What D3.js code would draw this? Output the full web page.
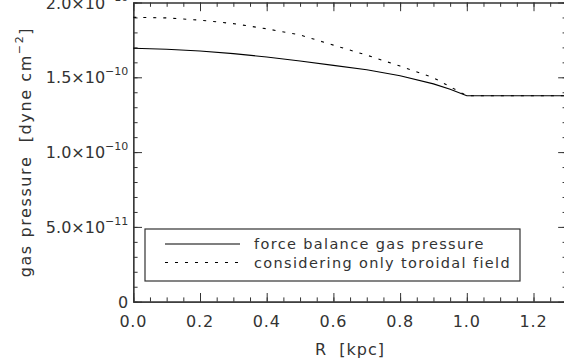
<!DOCTYPE html>
<html>
<head>
<meta charset="utf-8">
<script src="https://cdn.jsdelivr.net/npm/d3@7"></script>
<style>
  body { margin: 0; background: #fff; }
  svg text { font-family: "DejaVu Sans", sans-serif; fill: #333; }
</style>
</head>
<body>
<div id="chart"></div>
<script>
// radius in kpc
var radius = [0, 0.1, 0.2, 0.3, 0.4, 0.5, 0.6, 0.7, 0.8, 0.9, 0.95, 1.0, 1.3];
// force balance gas pressure (dyne cm^-2)
var forceBalance = [1.694e-10, 1.687e-10, 1.676e-10, 1.658e-10, 1.636e-10, 1.609e-10, 1.580e-10,
                    1.551e-10, 1.510e-10, 1.456e-10, 1.420e-10, 1.377e-10, 1.377e-10];
// considering only toroidal field
var toroidalOnly = [1.901e-10, 1.897e-10, 1.882e-10, 1.859e-10, 1.824e-10, 1.783e-10, 1.715e-10,
                    1.648e-10, 1.575e-10, 1.497e-10, 1.437e-10, 1.377e-10, 1.377e-10];

var xTicks = [0, 0.2, 0.4, 0.6, 0.8, 1.0, 1.2];
var yTicks = [0, 5e-11, 1e-10, 1.5e-10, 2e-10];
var yTickMant = ["0", "5.0", "1.0", "1.5", "2.0"];
var yTickExp = ["", "\u221211", "\u221210", "\u221210", "\u221210"];
var seriesNames = ["force balance gas pressure", "considering only toroidal field"];

var W = 564, H = 362;
var margin = { top: 2.5, left: 133.3 },
    width = 1.3 * 333.5,
    height = 299.2;

var x = d3.scaleLinear().domain([0, 1.3]).range([0, width]);
var y = d3.scaleLinear().domain([0, 2e-10]).range([height, 0]);

var svg = d3.select("#chart").append("svg")
    .attr("width", W)
    .attr("height", H)
    .append("g")
    .attr("transform", "translate(" + margin.left + "," + margin.top + ")");

var axisCol = "#333";

// minor ticks
var xMinor = d3.range(0, 1.3001, 0.05);
var yMinor = d3.range(0, 2.0001e-10, 1e-11);

function tickAxis(axis, len) {
  return axis.tickSizeInner(len).tickSizeOuter(0).tickFormat("");
}

// box axes, ticks pointing inwards
var axes = [
  { gen: d3.axisBottom(x), tr: "translate(0," + height + ")", minor: xMinor, major: xTicks },
  { gen: d3.axisTop(x), tr: "translate(0,0)", minor: xMinor, major: xTicks },
  { gen: d3.axisLeft(y), tr: "translate(0,0)", minor: yMinor, major: yTicks },
  { gen: d3.axisRight(y), tr: "translate(" + width + ",0)", minor: yMinor, major: yTicks }
];

axes.forEach(function(a) {
  var g1 = svg.append("g").attr("transform", a.tr)
    .call(tickAxis(a.gen.tickValues(a.minor), -4.3));
  var g2 = svg.append("g").attr("transform", a.tr)
    .call(tickAxis(a.gen.tickValues(a.major), -8.7));
  [g1, g2].forEach(function(g) {
    g.selectAll("path").attr("stroke", axisCol).attr("stroke-width", 1.2);
    g.selectAll("line").attr("stroke", axisCol).attr("stroke-width", 1);
  });
});

// x tick labels
svg.selectAll(".xlab")
  .data(xTicks)
  .enter().append("text")
  .attr("class", "xlab")
  .attr("x", function(d) { return x(d); })
  .attr("y", height + 25)
  .attr("text-anchor", "middle")
  .style("font-size", "16px")
  .style("letter-spacing", "0.8px")
  .text(function(d) { return d.toFixed(1); });

// y tick labels with superscript exponent
var ylab = svg.selectAll(".ylab")
  .data(yTicks)
  .enter().append("text")
  .attr("class", "ylab")
  .attr("x", -5)
  .attr("y", function(d) { return y(d) + 6; })
  .attr("text-anchor", "end")
  .style("font-size", "16px");

ylab.each(function(d, i) {
  var t = d3.select(this);
  if (yTickExp[i] === "") {
    t.text(yTickMant[i]);
    return;
  }
  t.append("tspan").text(yTickMant[i] + "\u00d710");
  t.append("tspan").attr("dy", -8).style("font-size", "11px").text(yTickExp[i]);
});

// axis titles
svg.append("text")
  .attr("x", x(0.65))
  .attr("y", height + 53)
  .attr("text-anchor", "middle")
  .style("font-size", "16px")
  .style("letter-spacing", "1px")
  .attr("xml:space", "preserve")
  .text("R  [kpc]");

var yt = svg.append("text")
  .attr("transform", "translate(" + (-102) + "," + (height / 2) + ") rotate(-90)")
  .attr("text-anchor", "middle")
  .attr("xml:space", "preserve")
  .style("font-size", "16px")
  .style("letter-spacing", "1.6px");
yt.append("tspan").text("gas pressure  [dyne cm");
yt.append("tspan").attr("dy", -8).style("font-size", "11px").text("\u22122");
yt.append("tspan").attr("dy", 8).text("]");

// lines
var line = d3.line()
  .x(function(d) { return x(d[0]); })
  .y(function(d) { return y(d[1]); });

var series = [
  { name: seriesNames[0], values: d3.zip(radius, forceBalance), dash: null },
  { name: seriesNames[1], values: d3.zip(radius, toroidalOnly), dash: "3,7" }
];

svg.selectAll(".series")
  .data(series)
  .enter().append("path")
  .attr("class", "series")
  .attr("d", function(d) { return line(d.values); })
  .attr("fill", "none")
  .attr("stroke", "#000")
  .attr("stroke-width", 1.1)
  .attr("stroke-dasharray", function(d) { return d.dash; });

// legend
var lg = svg.append("g").attr("transform", "translate(" + (145 - margin.left) + "," + (229 - margin.top) + ")");
lg.append("rect")
  .attr("width", 375)
  .attr("height", 52)
  .attr("fill", "#fff")
  .attr("stroke", axisCol)
  .attr("stroke-width", 1.2);

var item = lg.selectAll(".leg")
  .data(series)
  .enter().append("g")
  .attr("class", "leg")
  .attr("transform", function(d, i) { return "translate(0," + (15 + i * 18.5) + ")"; });

item.append("line")
  .attr("x1", 20).attr("x2", 95)
  .attr("stroke", "#000")
  .attr("stroke-width", 1.1)
  .attr("stroke-dasharray", function(d) { return d.dash; });

item.append("text")
  .attr("x", 109)
  .attr("y", 5)
  .style("font-size", "14.5px")
  .style("letter-spacing", "1.35px")
  .text(function(d) { return d.name; });
</script>
</body>
</html>
